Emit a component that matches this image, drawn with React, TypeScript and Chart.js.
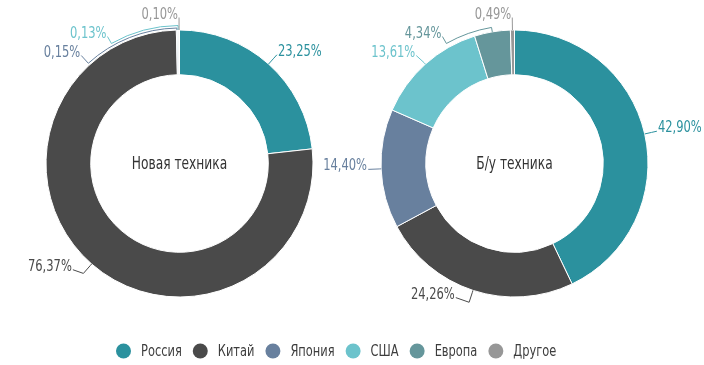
import React, { useEffect, useRef } from 'react';
import { Chart, registerables } from 'chart.js';

Chart.register(...registerables);

const categories = ['Россия', 'Китай', 'Япония', 'США', 'Европа', 'Другое'];
const newEquipment = [23.25, 76.37, 0.15, 0.13, 0, 0.1];
const usedEquipment = [42.9, 24.26, 14.4, 13.61, 4.34, 0.49];
const chartTitles = ['Новая техника', 'Б/у техника'];
const colors = ['#2b919e', '#4a4a4a', '#68809e', '#6cc3cc', '#65969b', '#979797'];

const FONT = '"Liberation Sans Narrow", "DejaVu Sans Condensed", "DejaVu Sans", sans-serif';
const SX = 0.8; // horizontal condensing to mimic a narrow typeface

const fmt = (v: number) => v.toFixed(2).replace('.', ',') + '%';

function condensedText(ctx: any, text: string, x: number, y: number, align: 'left' | 'right' | 'center', sx = SX) {
  ctx.save();
  ctx.translate(x, y);
  ctx.scale(sx, 1);
  ctx.textAlign = align;
  ctx.fillText(text, 0, 0);
  ctx.restore();
}

const outLabels = {
  id: 'outLabels',
  afterDatasetsDraw(chart: any) {
    const ctx = chart.ctx;
    const meta = chart.getDatasetMeta(0);
    const data = chart.data.datasets[0].data as number[];
    const spacing = 19;
    const items: any[] = [];
    meta.data.forEach((arc: any, i: number) => {
      const v = data[i];
      if (!v) return;
      const p = arc.getProps(['x', 'y', 'startAngle', 'endAngle', 'outerRadius'], true);
      const mid = (p.startAngle + p.endAngle) / 2;
      const Rl = p.outerRadius + 12.5;
      items.push({
        i, v, cx: p.x, cy: p.y, R: p.outerRadius, Rl, mid,
        left: Math.cos(mid) < 0,
        ly: p.y + Math.sin(mid) * Rl,
      });
    });
    for (const side of [true, false]) {
      const group = items.filter((it) => it.left === side).sort((a, b) => a.ly - b.ly);
      for (let k = 1; k < group.length; k++) {
        if (group[k].ly < group[k - 1].ly + spacing) group[k].ly = group[k - 1].ly + spacing;
      }
      group.forEach((it, k) => (it.k = k));
    }
    ctx.save();
    ctx.lineWidth = 1;
    ctx.font = '16px ' + FONT;
    ctx.textBaseline = 'alphabetic';
    items.forEach((it) => {
      const dy = it.ly - it.cy;
      const dx = Math.sqrt(Math.max(0, it.Rl * it.Rl - dy * dy));
      const ex = it.left ? it.cx - dx : it.cx + dx;
      const ey = it.ly;
      let te = Math.atan2(ey - it.cy, ex - it.cx);
      while (te < it.mid - Math.PI) te += Math.PI * 2;
      while (te > it.mid + Math.PI) te -= Math.PI * 2;
      const g = Math.max(2, 7 - 2.5 * it.k);
      const tail = 14 * Math.max(0, Math.sin(it.mid));
      const tx = it.left ? ex - tail : ex + tail;
      const ty = ey - tail * 0.35;
      ctx.strokeStyle = colors[it.i];
      ctx.beginPath();
      ctx.moveTo(it.cx + Math.cos(it.mid) * it.R, it.cy + Math.sin(it.mid) * it.R);
      ctx.lineTo(it.cx + Math.cos(it.mid) * (it.R + g), it.cy + Math.sin(it.mid) * (it.R + g));
      if (Math.abs(te - it.mid) > 0.01) {
        ctx.arc(it.cx, it.cy, it.R + g, it.mid, te, te < it.mid);
      }
      ctx.lineTo(ex, ey);
      if (tail > 0.5) ctx.lineTo(tx, ty);
      ctx.stroke();
      ctx.fillStyle = colors[it.i];
      condensedText(ctx, fmt(it.v), tx + (it.left ? -1 : 1), ty + 1, it.left ? 'right' : 'left');
    });
    ctx.restore();
  },
};

const centerTitle = {
  id: 'centerTitle',
  afterDraw(chart: any) {
    const title = chart.options.plugins.centerTitle?.text;
    if (!title) return;
    const arc = chart.getDatasetMeta(0).data[0];
    const ctx = chart.ctx;
    ctx.save();
    ctx.font = '17px ' + FONT;
    ctx.fillStyle = '#333333';
    ctx.textBaseline = 'middle';
    condensedText(ctx, title, arc.x, arc.y + 1, 'center');
    ctx.restore();
  },
};

const bottomLegend = {
  id: 'bottomLegend',
  afterDraw(chart: any) {
    const cfg = chart.options.plugins.bottomLegend;
    if (!cfg?.show) return;
    const ctx = chart.ctx;
    const lsx = 0.82;
    ctx.save();
    ctx.font = '15.5px ' + FONT;
    ctx.textBaseline = 'middle';
    const cy = 351;
    let x = 116;
    categories.forEach((c, i) => {
      ctx.fillStyle = colors[i];
      ctx.beginPath();
      ctx.arc(x + 7.5, cy, 7.5, 0, Math.PI * 2);
      ctx.fill();
      x += 15 + 10;
      ctx.fillStyle = '#3d3d3d';
      condensedText(ctx, c, x, cy + 1, 'left', lsx);
      x += ctx.measureText(c).width * lsx + 11;
    });
    ctx.restore();
  },
};

function Donut({ values, title, padding, legend }: { values: number[]; title: string; padding: any; legend: boolean }) {
  const ref = useRef<HTMLCanvasElement>(null);
  useEffect(() => {
    if (!ref.current) return;
    const chart = new Chart(ref.current, {
      type: 'doughnut',
      data: {
        labels: categories,
        datasets: [
          {
            data: values,
            backgroundColor: colors,
            borderColor: '#ffffff',
            borderWidth: 1,
          },
        ],
      },
      options: {
        responsive: false,
        animation: false,
        events: [],
        cutout: '66.5%',
        layout: { padding },
        plugins: {
          legend: { display: false },
          tooltip: { enabled: false },
          centerTitle: { text: title },
          bottomLegend: { show: legend },
        } as any,
      },
      plugins: [outLabels, centerTitle, bottomLegend],
    });
    return () => chart.destroy();
  }, []);
  return (
    <canvas
      ref={ref}
      width={704}
      height={365}
      style={{ position: 'absolute', left: 0, top: 0, width: 704, height: 365 }}
    />
  );
}

export default function App() {
  return (
    <div style={{ position: 'absolute', left: 0, top: 0, width: 704, height: 365, background: '#fff' }}>
      <Donut
        values={newEquipment}
        title={chartTitles[0]}
        legend={false}
        padding={{ left: 45.5, top: 29.5, right: 390.5, bottom: 67.5 }}
      />
      <Donut
        values={usedEquipment}
        title={chartTitles[1]}
        legend={true}
        padding={{ left: 380.5, top: 29.5, right: 55.5, bottom: 67.5 }}
      />
    </div>
  );
}
